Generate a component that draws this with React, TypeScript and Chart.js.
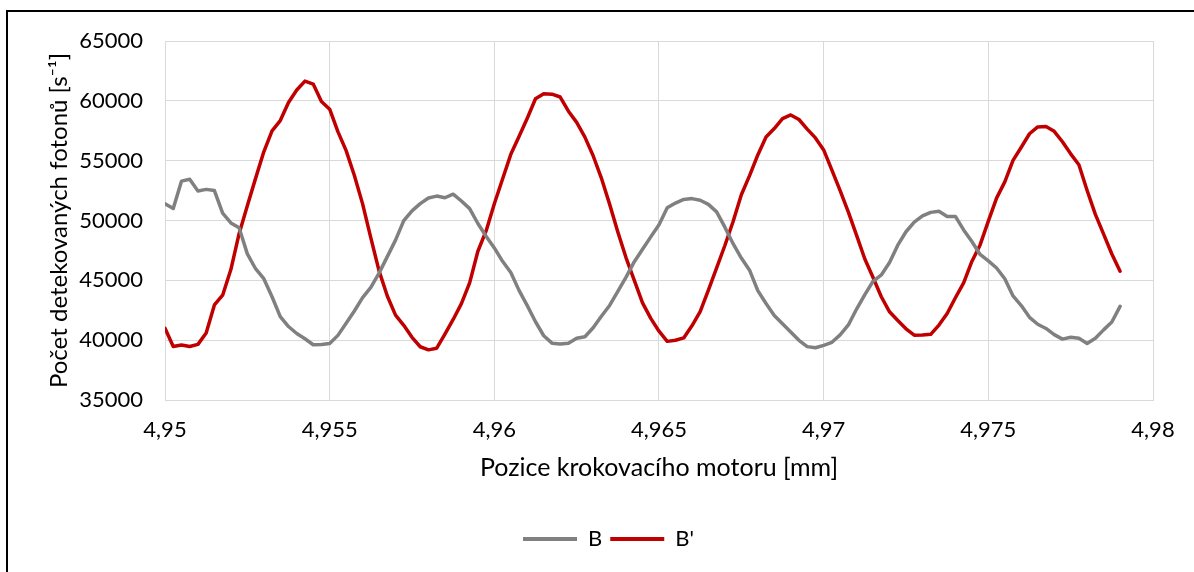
import React, { useEffect, useRef } from "react";
import { Chart, registerables } from "chart.js";

Chart.register(...registerables);

// Motor position [mm]
const positions = [
  4.95, 4.95025, 4.9505, 4.95075, 4.951, 4.95125, 4.9515, 4.95175, 4.952, 4.95225, 4.9525, 4.95275, 4.953, 4.95325, 4.9535, 4.95375, 4.954, 4.95425, 4.9545, 4.95475,
  4.955, 4.95525, 4.9555, 4.95575, 4.956, 4.95625, 4.9565, 4.95675, 4.957, 4.95725, 4.9575, 4.95775, 4.958, 4.95825, 4.9585, 4.95875, 4.959, 4.95925, 4.9595, 4.95975,
  4.96, 4.96025, 4.9605, 4.96075, 4.961, 4.96125, 4.9615, 4.96175, 4.962, 4.96225, 4.9625, 4.96275, 4.963, 4.96325, 4.9635, 4.96375, 4.964, 4.96425, 4.9645, 4.96475,
  4.965, 4.96525, 4.9655, 4.96575, 4.966, 4.96625, 4.9665, 4.96675, 4.967, 4.96725, 4.9675, 4.96775, 4.968, 4.96825, 4.9685, 4.96875, 4.969, 4.96925, 4.9695, 4.96975,
  4.97, 4.97025, 4.9705, 4.97075, 4.971, 4.97125, 4.9715, 4.97175, 4.972, 4.97225, 4.9725, 4.97275, 4.973, 4.97325, 4.9735, 4.97375, 4.974, 4.97425, 4.9745, 4.97475,
  4.975, 4.97525, 4.9755, 4.97575, 4.976, 4.97625, 4.9765, 4.97675, 4.977, 4.97725, 4.9775, 4.97775, 4.978, 4.97825, 4.9785, 4.97875, 4.979,
];

// Series B (grey)
const seriesB = [
  51400, 51000, 53290, 53440, 52470, 52600, 52500, 50610, 49800, 49390, 47210, 45970, 45140, 43630, 41970, 41140, 40560, 40120, 39620, 39640,
  39720, 40400, 41410, 42440, 43550, 44410, 45600, 46980, 48360, 49990, 50810, 51410, 51880, 52040, 51900, 52200, 51630, 50990, 49750, 48690,
  47710, 46590, 45650, 44160, 42880, 41540, 40370, 39750, 39680, 39750, 40160, 40290, 41040, 42000, 42900, 44070, 45270, 46560, 47590, 48630,
  49650, 51060, 51460, 51760, 51830, 51690, 51350, 50720, 49440, 48060, 46860, 45850, 44140, 43060, 42070, 41380, 40690, 39990, 39460, 39370,
  39570, 39820, 40440, 41270, 42600, 43810, 44920, 45450, 46490, 47940, 49060, 49860, 50380, 50680, 50780, 50340, 50340, 49210, 48240, 47160,
  46630, 46030, 45130, 43700, 42890, 41910, 41330, 40980, 40460, 40090, 40250, 40160, 39730, 40160, 40860, 41520, 42820,
];

// Series B' (red)
const seriesBPrime = [
  41000, 39470, 39600, 39470, 39650, 40600, 42940, 43760, 45900, 48900, 51230, 53520, 55740, 57490, 58350, 59860, 60910, 61650, 61400, 59940,
  59300, 57430, 55840, 53760, 51390, 48550, 45790, 43690, 42090, 41240, 40240, 39450, 39190, 39330, 40510, 41730, 43050, 44790, 47430, 49130,
  51400, 53470, 55530, 57020, 58550, 60170, 60590, 60560, 60320, 59130, 58200, 56970, 55410, 53550, 51370, 49040, 46880, 44990, 43120, 41820,
  40750, 39900, 39990, 40190, 41200, 42390, 44190, 46040, 47910, 49920, 52150, 53750, 55480, 56980, 57680, 58510, 58820, 58440, 57640, 56900,
  55900, 54210, 52490, 50700, 48760, 46780, 45230, 43630, 42370, 41640, 40950, 40420, 40430, 40490, 41260, 42230, 43540, 44790, 46580, 47960,
  49950, 51870, 53230, 55020, 56120, 57250, 57820, 57860, 57450, 56580, 55570, 54660, 52510, 50510, 48860, 47200, 45760,
];

const xTickValues = [4.95, 4.955, 4.96, 4.965, 4.97, 4.975, 4.98];
const xTickLabels = ["4,95", "4,955", "4,96", "4,965", "4,97", "4,975", "4,98"];
const yTickValues = [35000, 40000, 45000, 50000, 55000, 60000, 65000];
const yTickLabels = ["35000", "40000", "45000", "50000", "55000", "60000", "65000"];

const seriesNames = ["B", "B'"];
const xTitle = "Pozice krokovacího motoru [mm]";
const yTitle = "Počet detekovaných fotonů [s⁻¹]";

const GRAY = "#808080";
const RED = "#c00000";
const GRID = "#d9d9d9";
const TEXT = "#000000";
const FONT = "Lato, 'Open Sans', sans-serif";

const legendShift = {
  id: "legendShift",
  afterLayout(chart: any) {
    const l = chart.legend;
    if (l) {
      l.left += 12;
      l.right += 12;
    }
  },
};

export default function App() {
  const ref = useRef<HTMLCanvasElement>(null);

  useEffect(() => {
    const canvas = ref.current;
    if (!canvas) return;
    const colors = [GRAY, RED];
    const chart = new Chart(canvas, {
      type: "line",
      data: {
        datasets: [seriesB, seriesBPrime].map((vals, di) => ({
          label: seriesNames[di],
          data: positions.map((x, i) => ({ x, y: vals[i] })),
          borderColor: colors[di],
          backgroundColor: colors[di],
          borderWidth: 3.5,
          pointRadius: 0,
          tension: 0,
          borderJoinStyle: "round" as const,
          borderCapStyle: "round" as const,
          fill: false,
        })),
      },
      plugins: [legendShift],
      options: {
        responsive: false,
        animation: false,
        events: [],
        layout: { padding: { left: 40, right: 41, top: 41, bottom: 12 } },
        plugins: {
          tooltip: { enabled: false },
          legend: {
            position: "bottom",
            labels: {
              font: { family: FONT, size: 22 },
              color: TEXT,
              boxWidth: 54,
              boxHeight: 4,
              padding: 8,
              generateLabels: (ch: any) =>
                ch.data.datasets.map((d: any, i: number) => ({
                  text: d.label,
                  fillStyle: d.borderColor,
                  strokeStyle: d.borderColor,
                  lineWidth: 0,
                  hidden: false,
                  datasetIndex: i,
                  fontColor: TEXT,
                })),
            },
          },
        },
        scales: {
          x: {
            type: "linear",
            min: 4.95,
            max: 4.98,
            afterBuildTicks: (s: any) => {
              s.ticks = xTickValues.map((v) => ({ value: v }));
            },
            afterFit: (s: any) => {
              s.height = 120;
            },
            ticks: {
              font: { family: FONT, size: 22 },
              color: TEXT,
              padding: 17,
              maxRotation: 0,
              callback: (_v: any, i: number) => xTickLabels[i],
            },
            grid: { color: GRID, lineWidth: 1, drawTicks: false },
            border: { color: GRID, width: 1 },
            title: {
              display: true,
              text: xTitle,
              font: { family: FONT, size: 25 },
              color: TEXT,
              padding: { top: 0, bottom: 37 },
            },
          },
          y: {
            type: "linear",
            min: 35000,
            max: 65000,
            afterBuildTicks: (s: any) => {
              s.ticks = yTickValues.map((v) => ({ value: v }));
            },
            afterFit: (s: any) => {
              s.width = 125;
            },
            ticks: {
              font: { family: FONT, size: 22 },
              color: TEXT,
              padding: 22,
              callback: (_v: any, i: number) => yTickLabels[i],
            },
            grid: { color: GRID, lineWidth: 1, drawTicks: false },
            border: { color: GRID, width: 1 },
            title: {
              display: true,
              text: yTitle,
              font: { family: FONT, size: 24 },
              color: TEXT,
              padding: { top: 5, bottom: 0 },
            },
          },
        },
      },
    });
    return () => chart.destroy();
  }, []);

  return (
    <div style={{ position: "absolute", left: 0, top: 0, width: 1194, height: 572, background: "#fff", overflow: "hidden" }}>
      <canvas ref={ref} width={1194} height={572} style={{ display: "block" }} />
      <div
        style={{
          position: "absolute",
          left: 6,
          top: 10,
          width: 1188,
          height: 562,
          borderLeft: "2px solid #000",
          borderTop: "2px solid #000",
          pointerEvents: "none",
        }}
      />
    </div>
  );
}
